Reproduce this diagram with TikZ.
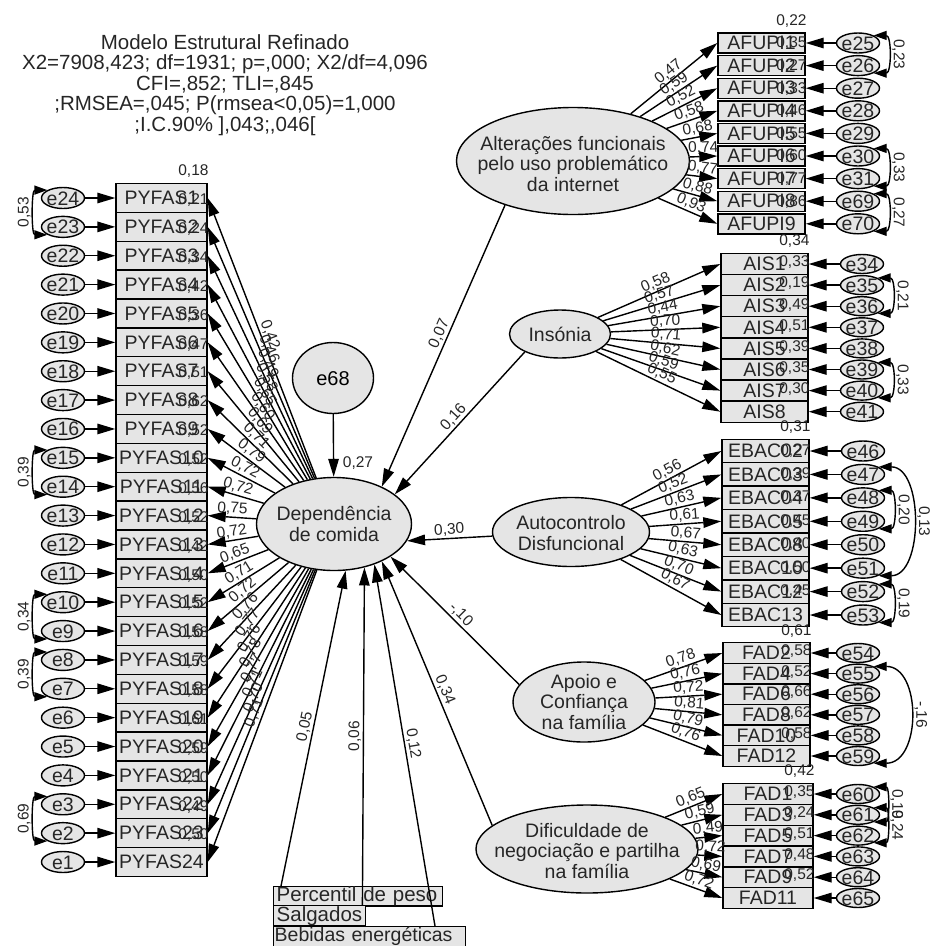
\documentclass[tikz,border=0pt]{standalone}
\usepackage{fontspec}
\setmainfont{Liberation Sans}
\usetikzlibrary{arrows.meta,calc,shapes.geometric}
\newcommand\myfs[1]{\fontsize{#1}{#1}\selectfont}
\newcommand\ztxt[1]{\makebox[0pt]{\raisebox{-0.36em}[0pt][0pt]{#1}}}
\definecolor{boxgray}{gray}{0.9}
\definecolor{txt}{gray}{0.15}
\tikzset{
  ln/.style={line width=1.4pt},
  arr/.style={ln,-{Triangle[length=18pt,width=10.5pt]}},
  cov/.style={ln,{Triangle[length=13pt,width=9pt]}-{Triangle[length=13pt,width=9pt]}},
  obs/.style={draw,line width=1.4pt,fill=boxgray,inner sep=0pt,minimum width=87pt,font=\myfs{19.5},text=txt},
  lat/.style={ellipse,draw,line width=1.4pt,fill=boxgray,inner sep=0pt},
  lattxt/.style={align=center,font=\fontsize{19.5}{20.5}\selectfont,text=txt,inner sep=0pt},
  err/.style={ellipse,draw,line width=1.4pt,fill=boxgray,inner sep=0pt,minimum width=43pt,minimum height=21pt,font=\myfs{19.5},text=txt},
  num/.style={font=\myfs{15.5},text=txt,inner sep=0pt},
  lab/.style={num,sloped,above,inner sep=1.5pt,pos=0.5},
  rlab/.style={num,rotate=-90,anchor=south,inner sep=4pt},
  llab/.style={num,rotate=90,anchor=south,inner sep=4pt},
  bbox/.style={draw,line width=1.4pt,fill=boxgray,anchor=north west,inner ysep=0pt,inner xsep=3pt,align=left,font=\myfs{20.5},text=txt}
}
\begin{document}
\begin{tikzpicture}[x=1pt,y=-1pt]
\fill[white] (0,0) rectangle (933,946);
\useasboundingbox (0,0) rectangle (933,946);

% title
\node[align=center,font=\fontsize{20.5}{20.5}\selectfont,text=txt] (title) at (225,85)
 {Modelo Estrutural Refinado\\X2=7908,423; df=1931; p=,000; X2/df=4,096\\CFI=,852; TLI=,845\\;RMSEA=,045; P(rmsea<0,05)=1,000\\;I.C.90\% ],043;,046[};

% ---------- left column PYFAS ----------
\foreach \i/\rr in {1/{0,18},2/{0,21},3/{0,24},4/{0,34},5/{0,42},6/{0,36},7/{0,47},8/{0,51},9/{0,62},10/{0,52},11/{0,52},12/{0,56},13/{0,52},14/{0,42},15/{0,50},16/{0,52},17/{0,58},18/{0,59},19/{0,58},20/{0,61},21/{0,59},22/{0,50},23/{0,49},24/{0,50}}{
  \pgfmathsetmacro\yy{198+(\i-1)*28.87}
  \pgfmathtruncatemacro\ee{25-\i}
  \node[obs,minimum width=91pt,minimum height=28.87pt] (p\i) at (161.5,\yy) {PYFAS\i};
  \node[err,minimum height=21pt] (e\ee) at (63,\yy) {\ztxt{e\ee}};
  \draw[arr] (e\ee) -- (p\i);
  \node[num,anchor=base east] (rp\i) at ($(p\i.north east)+(1,-7)$) {\rr};
}
\draw[cov] (e24.north west) .. controls +(-16,0) and +(-16,0) .. (e23.south west) node[llab,midway] (c1) {0,53};
\draw[cov] (e15.north west) .. controls +(-16,0) and +(-16,0) .. (e14.south west) node[llab,midway] (c2) {0,39};
\draw[cov] (e10.north west) .. controls +(-16,0) and +(-16,0) .. (e9.south west) node[llab,midway] (c3) {0,34};
\draw[cov] (e8.north west) .. controls +(-16,0) and +(-16,0) .. (e7.south west) node[llab,midway] (c4) {0,39};
\draw[cov] (e3.north west) .. controls +(-16,0) and +(-16,0) .. (e2.south west) node[llab,midway] (c5) {0,69};

% ---------- central latent ----------
\node[lat,minimum width=155pt,minimum height=93pt] (dep) at (334,524) {};
\node[lattxt] (deptx) at (334,524) {Dependência\\de comida};
\node[lat,minimum width=81pt,minimum height=71pt] (e68) at (333,378) {\myfs{20}\ztxt{e68}};
\draw[arr] (e68) -- (dep);
\node[num] (r68) at (358,463) {0,27};

\foreach \i/\ld in {1/{0,42},2/{0,46},3/{0,49},4/{0,58},5/{0,65},6/{0,60},7/{0,69},8/{0,71},9/{0,79},10/{0,72},11/{0,72},12/{0,75},13/{0,72},14/{0,65},15/{0,71},16/{0,72},17/{0,76},18/{0,77},19/{0,76},20/{0,78},21/{0,77},22/{0,71},23/{0,70},24/{0,71}}{
  \draw[arr] (dep) -- (p\i.east) node[lab] (lp\i) {\ld};
}

% ---------- AFUPI ----------
\node[lat,minimum width=233pt,minimum height=107pt] (alt) at (573,161) {};
\node[lattxt] (alttx) at (573,164) {Alterações funcionais\\pelo uso problemático\\da internet};
\foreach \k/\ee/\rr in {1/25/{0,22},2/26/{0,35},3/27/{0,27},4/28/{0,33},5/29/{0,46},6/30/{0,55},7/31/{0,60},8/69/{0,77},9/70/{0,86}}{
  \pgfmathsetmacro\yy{43+(\k-1)*22.6}
  \node[obs,minimum height=20pt] (a\k) at (761.5,\yy) {AFUPI\k};
  \node[err,minimum height=20pt] (e\ee) at (858,\yy) {\ztxt{e\ee}};
  \draw[arr] (e\ee) -- (a\k);
  \node[num,anchor=base east] (ra\k) at ($(a\k.north east)+(1,-7)$) {\rr};
}
\foreach \k/\ld in {1/{0,47},2/{0,59},3/{0,52},4/{0,58},5/{0,68},6/{0,74},7/{0,77},8/{0,88},9/{0,93}}{
  \draw[arr] (alt) -- (a\k.west) node[lab] (la\k) {\ld};
}
\draw[cov] (e25.north east) .. controls +(18,0) and +(18,0) .. (e26.south east) node[rlab,midway] (c6) {0,23};
\draw[cov] (e30.north east) .. controls +(18,0) and +(18,0) .. (e31.south east) node[rlab,midway] (c7) {0,33};
\draw[cov] (e69.north east) .. controls +(18,0) and +(18,0) .. (e70.south east) node[rlab,midway] (c8) {0,27};

% ---------- AIS ----------
\node[lat,minimum width=101pt,minimum height=48pt] (ins) at (560,334) {};
\node[lattxt] (instx) at (560,334) {Insónia};
\foreach \k/\ee/\rr in {1/34/{0,34},2/35/{0,33},3/36/{0,19},4/37/{0,49},5/38/{0,51},6/39/{0,39},7/40/{0,35},8/41/{0,30}}{
  \pgfmathsetmacro\yy{264+(\k-1)*21.1}
  \node[obs,minimum height=21.1pt] (s\k) at (764.5,\yy) {AIS\k};
  \node[err,minimum height=19pt] (e\ee) at (862,\yy) {\ztxt{e\ee}};
  \draw[arr] (e\ee) -- (s\k);
  \node[num,anchor=base east] (rs\k) at ($(s\k.north east)+(1,-7)$) {\rr};
}
\foreach \k/\ld in {1/{0,58},2/{0,57},3/{0,44},4/{0,70},5/{0,71},6/{0,62},7/{0,59},8/{0,55}}{
  \draw[arr] (ins) -- (s\k.west) node[lab] (ls\k) {\ld};
}
\draw[cov] (e35.north east) .. controls +(18,0) and +(18,0) .. (e36.south east) node[rlab,midway] (c9) {0,21};
\draw[cov] (e39.north east) .. controls +(18,0) and +(18,0) .. (e40.south east) node[rlab,midway] (c10) {0,33};

% ---------- EBAC ----------
\node[lat,minimum width=157pt,minimum height=69pt] (auto) at (571,532) {};
\node[lattxt] (autotx) at (571,533) {Autocontrolo\\Disfuncional};
\foreach \k/\nm/\ee/\rr in {1/02/46/{0,31},2/03/47/{0,27},3/04/48/{0,39},4/05/49/{0,37},5/08/50/{0,45},6/10/51/{0,40},7/12/52/{0,50},8/13/53/{0,45}}{
  \pgfmathsetmacro\yy{451+(\k-1)*23.43}
  \node[obs,minimum height=23.43pt] (b\k) at (765.5,\yy) {EBAC\nm};
  \node[err,minimum height=20pt] (e\ee) at (863,\yy) {\ztxt{e\ee}};
  \draw[arr] (e\ee) -- (b\k);
  \node[num,anchor=base east] (rb\k) at ($(b\k.north east)+(1,-7)$) {\rr};
}
\foreach \k/\ld in {1/{0,56},2/{0,52},3/{0,63},4/{0,61},5/{0,67},6/{0,63},7/{0,70},8/{0,67}}{
  \draw[arr] (auto) -- (b\k.west) node[lab] (lb\k) {\ld};
}
\draw[cov] (e47.north east) .. controls +(45,0) and +(45,0) .. (e51.south east) node[rlab,midway] (c11) {0,13};
\draw[cov] (e48.north east) .. controls +(18,0) and +(18,0) .. (e49.south east) node[rlab,midway] (c12) {0,20};
\draw[cov] (e52.north east) .. controls +(18,0) and +(18,0) .. (e53.south east) node[rlab,midway] (c13) {0,19};

% ---------- FAD even ----------
\node[lat,minimum width=142pt,minimum height=80pt] (apoio) at (584,702) {};
\node[lattxt] (apoiotx) at (584,702) {Apoio e\\Confiança\\na família};
\foreach \k/\nm/\ee/\rr in {1/2/54/{0,61},2/4/55/{0,58},3/6/56/{0,52},4/8/57/{0,66},5/10/58/{0,62},6/12/59/{0,58}}{
  \pgfmathsetmacro\yy{653+(\k-1)*20.6}
  \node[obs,minimum height=20.6pt] (f\k) at (766.5,\yy) {FAD\nm};
  \node[err,minimum height=19pt] (e\ee) at (858,\yy) {\ztxt{e\ee}};
  \draw[arr] (e\ee) -- (f\k);
  \node[num,anchor=base east] (rf\k) at ($(f\k.north east)+(1,-7)$) {\rr};
}
\foreach \k/\ld in {1/{0,78},2/{0,76},3/{0,72},4/{0,81},5/{0,79},6/{0,76}}{
  \draw[arr] (apoio) -- (f\k.west) node[lab] (lf\k) {\ld};
}
\draw[cov] (e55.north east) .. controls +(48,0) and +(48,0) .. (e59.south east) node[rlab,midway] (c14) {-,16};

% ---------- FAD odd ----------
\node[lat,minimum width=222pt,minimum height=88pt] (dif) at (587,849) {};
\node[lattxt] (diftx) at (587,851) {Dificuldade de\\negociação e partilha\\na família};
\foreach \k/\nm/\ee/\rr in {1/1/60/{0,42},2/3/61/{0,35},3/5/62/{0,24},4/7/63/{0,51},5/9/64/{0,48},6/11/65/{0,52}}{
  \pgfmathsetmacro\yy{794+(\k-1)*20.8}
  \node[obs,minimum width=90pt,minimum height=20.8pt] (g\k) at (768,\yy) {FAD\nm};
  \node[err,minimum height=19pt] (e\ee) at (858,\yy) {\ztxt{e\ee}};
  \draw[arr] (e\ee) -- (g\k);
  \node[num,anchor=base east] (rg\k) at ($(g\k.north east)+(1,-7)$) {\rr};
}
\foreach \k/\ld in {1/{0,65},2/{0,59},3/{0,49},4/{0,72},5/{0,69},6/{0,72}}{
  \draw[arr] (dif) -- (g\k.west) node[lab] (lg\k) {\ld};
}
\draw[cov] (e60.north east) .. controls +(16,0) and +(16,0) .. (e61.south east) node[rlab,midway] (c15) {0,19};
\draw[cov] (e61.north east) .. controls +(16,0) and +(16,0) .. (e62.south east) node[rlab,midway] (c16) {0,24};

% ---------- bottom observed ----------
\node[bbox,text width=163pt,minimum height=18pt] (perc) at (273,886) {Percentil de peso};
\node[bbox,text width=86pt,minimum height=20pt] (salg) at (273,905) {Salgados};
\node[bbox,text width=190pt,inner xsep=1pt,minimum height=20pt,font=\myfs{19.5}] (beb) at (273,926) {\mbox{Bebidas energéticas}};

% ---------- structural paths ----------
\draw[arr] (alt.213) -- (dep.38) node[lab,pos=0.47] (s1) {0,07};
\draw[arr] (ins.207) -- (dep.26) node[lab] (s2) {0,16};
\draw[arr] (auto.183) -- (dep.-13) node[lab] (s3) {0,30};
\draw[arr] (apoio.165) -- (dep.-30) node[lab] (s4) {-,10};
\draw[arr] (dif.166) -- (dep.-38) node[lab] (s5) {0,34};
\draw[arr] ($(perc.north west)+(8,0)$) -- (dep.-76) node[lab] (s6) {0,05};
\draw[arr] ($(salg.north east)+(-4,0)$) -- (dep.-55) node[lab] (s7) {0,06};
\draw[arr] ($(beb.north west)+(162,0)$) -- (dep.-45) node[lab] (s8) {0,12};
\end{tikzpicture}
\end{document}
